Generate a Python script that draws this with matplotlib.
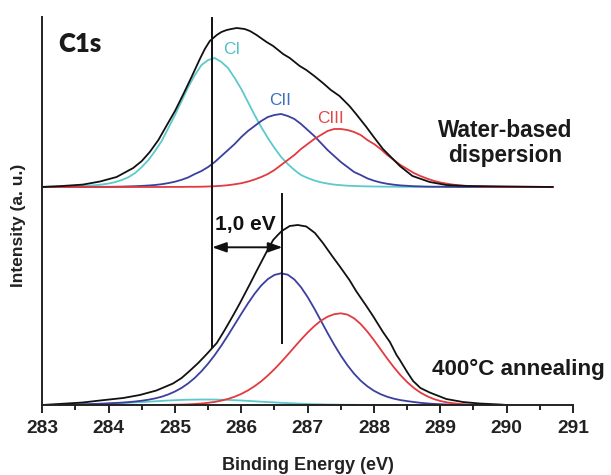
import numpy as np
import matplotlib
matplotlib.use("Agg")
import matplotlib.pyplot as plt
from matplotlib.ticker import MultipleLocator

plt.rcParams['font.family'] = ['Liberation Sans', 'DejaVu Sans']

# ---------------- data (intensity in arbitrary units) ----------------
# sampling grids of binding energy (eV) for the fitted components
energy_top = np.round(np.arange(283.0, 290.71, 0.1), 1)
energy_bot = np.round(np.arange(283.0, 290.01, 0.1), 1)

# Water-based dispersion: fitted components (height above spectrum baseline)
ci_top = [0.3,0.4,0.4,0.5,0.7,0.8,1.1,1.4,1.8,2.5,3.5,4.9,7,9.9,14,20,27,36,46,59,72,86,100,112,122,127,129,125,119,109,98,85,72,60,49,39,30,23,17,12,9,6.5,4.7,3.4,2.4,1.8,1.3,1,0.8,0.6,0.5,0.4,0.3,0.3,0.2,0.2,0.1,0.1,0.1,0.1,0.1,0,0,0,0,0,0,0,0,0,0,0,0,0,0,0,0,0]
cii_top = [0,0,0,0,0.1,0.1,0.1,0.1,0.1,0.2,0.2,0.3,0.4,0.6,0.8,1.1,1.5,2,2.8,3.9,5.3,7.2,9.6,13,16,20,25,31,37,43,50,56,61,66,70,72,73,71,68,63,57,51,44,37,31,25,20,15,12,8.6,6.3,4.5,3.2,2.3,1.6,1.2,0.8,0.6,0.4,0.3,0.3,0.2,0.2,0.1,0.1,0.1,0.1,0.1,0,0,0,0,0,0,0,0,0,0]
ciii_top = [0,0,0,0,0,0,0,0,0,0,0,0,0,0,0,0,0,0,0,0.1,0.1,0.1,0.2,0.2,0.3,0.5,0.8,1.2,1.8,2.7,3.8,5.4,7.5,10,13,17,22,27,32,38,43,48,52,56,58,58,57,55,52,47,43,38,32,27,22,18,14,11,8.4,6.2,4.5,3.3,2.3,1.6,1.1,0.7,0.5,0.3,0.2,0.1,0.1,0.1,0,0,0,0,0,0]

# Water-based dispersion: measured spectrum
meas_top_e = [283.0,283.3,283.61,283.87,284.12,284.37,284.5,284.62,284.75,284.87,285.0,285.12,285.25,285.375,285.45,285.525,285.63,285.7,285.78,285.85,285.93,286.05,286.13,286.23,286.38,286.48,286.63,286.73,286.88,286.98,287.1,287.23,287.35,287.48,287.63,287.73,287.885,287.985,288.135,288.24,288.39,288.58,288.84,289.09,289.39,290.69]
meas_top_i = [0,1,2.4,5.5,10,19,26,35,47,61,76,92,110,128,138,146,152,155,157,158,159,158,156,152,145,141,133,129,121,117,111,104,97,91,81,73,60,51,38,31,21,11,5,2,1,0]

# 400 C annealing: fitted components
ci_bot = [0.1,0.1,0.2,0.2,0.3,0.4,0.5,0.7,0.8,1,1.3,1.6,1.9,2.2,2.6,2.9,3.3,3.7,4.1,4.5,4.8,5.1,5.3,5.4,5.5,5.5,5.4,5.3,5.1,4.8,4.5,4.1,3.7,3.3,2.9,2.6,2.2,1.9,1.6,1.3,1,0.8,0.7,0.5,0.4,0.3,0.2,0.2,0.1,0.1,0.1,0,0,0,0,0,0,0,0,0,0,0,0,0,0,0,0,0,0,0,0]
cii_bot = [0,0.1,0.2,0.3,0.4,0.5,0.7,0.9,1.1,1.4,1.7,2.0,2.4,2.9,3.5,4.3,5.3,6.6,8.3,10.6,13.5,17.1,21.7,27.2,33.8,41.4,50,59.5,69.8,80.5,91.2,101.6,111.2,119.5,125.9,130.1,131.7,130.3,125.5,117.8,107.9,96.5,84.3,72,60.3,49.4,39.7,31.3,24.3,18.7,14.2,10.8,8.2,6.3,4.9,3.9,3.0,2.2,1.6,1.1,0.8,0.5,0.35,0.2,0.1,0,0,0,0,0,0]
ciii_bot = [0,0,0,0,0,0,0,0,0,0,0,0,0,0,0,0,0,0.1,0.1,0.2,0.3,0.4,0.6,1,1.5,2.2,3.1,4.4,6.1,8.3,11.1,14.6,18.8,23.7,29.5,35.9,42.9,50.3,57.9,65.4,72.5,78.9,84.3,88.3,90.8,91.7,90.4,86.7,80.9,73.4,64.8,55.6,46.4,37.7,29.8,22.9,17.1,12.4,8.8,6,4,2.6,1.7,1,0.6,0.4,0.2,0.1,0.1,0,0]

# 400 C annealing: measured spectrum
meas_bot_e = [283.0,283.37,283.61,283.87,284.22,284.47,284.72,284.97,285.1,285.22,285.35,285.48,285.63,285.75,285.88,285.98,286.13,286.23,286.38,286.48,286.55,286.61,286.73,286.85,286.98,287.11,287.23,287.38,287.48,287.63,287.73,287.885,287.985,288.135,288.24,288.34,288.39,288.5,288.59,288.7,288.84,289.09,289.34,289.59,289.9,290.0]
meas_bot_i = [0,1.5,2.5,4.5,7,10,14.5,21.5,27,34,42,51,62,75,90,102,121,134,153,165,170,174,179,180,178.5,172,162,148,139,125,114,99,89,73,63,50,45,33,24,17,12.5,6,3,1.5,0.5,0]

# peak-position markers (CI of dispersion, CII of annealed film)
marker_e = [285.56, 286.62]
marker_low = [57, 61]
marker_high = [388, 212]
shift_label = '1,0 eV'

x_ticks = [283, 284, 285, 286, 287, 288, 289, 290, 291]

# ---------------- styling ----------------
offset_top = 218
c_cyan = '#5cc9cc'
c_blue = '#3b3f9e'
c_red = '#e23a3e'
lab_cyan = '#4fc2c8'
lab_blue = '#3d6fc1'
lab_red = '#e04848'
axc = '#222222'

fig = plt.figure(figsize=(6.11, 4.75), dpi=100)
ax = fig.add_axes([42.3 / 611, 70 / 475, (573 - 42.3) / 611, 388 / 475])

lw_c = 1.3
ax.plot(energy_top, np.array(ci_top) + offset_top, color=c_cyan, lw=lw_c)
ax.plot(energy_top, np.array(cii_top) + offset_top, color=c_blue, lw=lw_c)
ax.plot(energy_top, np.array(ciii_top) + offset_top, color=c_red, lw=lw_c)
ax.plot(meas_top_e, np.array(meas_top_i) + offset_top, color='#111111', lw=1.3)

ax.plot(energy_bot, ci_bot, color=c_cyan, lw=lw_c)
ax.plot(energy_bot, cii_bot, color=c_blue, lw=lw_c)
ax.plot(energy_bot, ciii_bot, color=c_red, lw=lw_c)
ax.plot(meas_bot_e, meas_bot_i, color='#111111', lw=1.3)

for e, lo, hi in zip(marker_e, marker_low, marker_high):
    ax.plot([e, e], [lo, hi], color='#111111', lw=1.4, solid_capstyle='butt')

ax.annotate('', xy=(marker_e[1], 157.7), xytext=(marker_e[0], 157.7),
            arrowprops=dict(arrowstyle='<|-|>,head_length=0.85,head_width=0.3',
                            mutation_scale=10, color='#111111', lw=1.4,
                            shrinkA=0, shrinkB=0))
ax.text(285.60, 175, shift_label, fontsize=15, fontweight='bold',
        color='#111111', ha='left', va='baseline')

ax.text(283.236, 353, 'C1s', fontsize=18.5, fontweight='heavy', color='#1a1a1a',
        ha='left', va='baseline', family=['Lato', 'DejaVu Sans'])
ax.text(285.726, 351, 'CI', fontsize=12.4, color=lab_cyan, ha='left', va='baseline')
ax.text(286.419, 300, 'CII', fontsize=12.4, color=lab_blue, ha='left', va='baseline')
ax.text(287.142, 281.7, 'CIII', fontsize=12.4, color=lab_red, ha='left', va='baseline')

ax.text(289.983, 268, 'Water-based', fontsize=16.3, fontweight='bold',
        color='#1a1a1a', ha='center', va='baseline')
ax.text(289.983, 243, 'dispersion', fontsize=16.3, fontweight='bold',
        color='#1a1a1a', ha='center', va='baseline')
ax.text(288.869, 30, '400\u00b0C annealing', fontsize=16.1, fontweight='bold',
        color='#1a1a1a', ha='left', va='baseline', clip_on=False)

ax.set_xlim(283, 291)
ax.set_ylim(0, 388)
for s in ['top', 'right']:
    ax.spines[s].set_visible(False)
for s in ['left', 'bottom']:
    ax.spines[s].set_linewidth(1.4)
    ax.spines[s].set_color(axc)
ax.set_yticks([])
ax.set_xticks(x_ticks)
ax.xaxis.set_minor_locator(MultipleLocator(0.5))
ax.tick_params(axis='x', which='major', direction='out', length=6, width=1.4,
               color=axc, pad=4.5, labelsize=13.8, labelcolor='#222222')
ax.tick_params(axis='x', which='minor', direction='out', length=3.5, width=1.4,
               color=axc)
for lab in ax.get_xticklabels():
    lab.set_fontweight('bold')

fig.text(308 / 611, (475 - 466) / 475, 'Binding Energy (eV)', fontsize=13,
         fontweight='bold', color='#222222', ha='center', va='center')
fig.text(18.5 / 611, (475 - 225.5) / 475, 'Intensity (a. u.)', fontsize=12.5,
         fontweight='bold', color='#222222', ha='center', va='center',
         rotation=90)

fig.savefig('out.png', dpi=100)
